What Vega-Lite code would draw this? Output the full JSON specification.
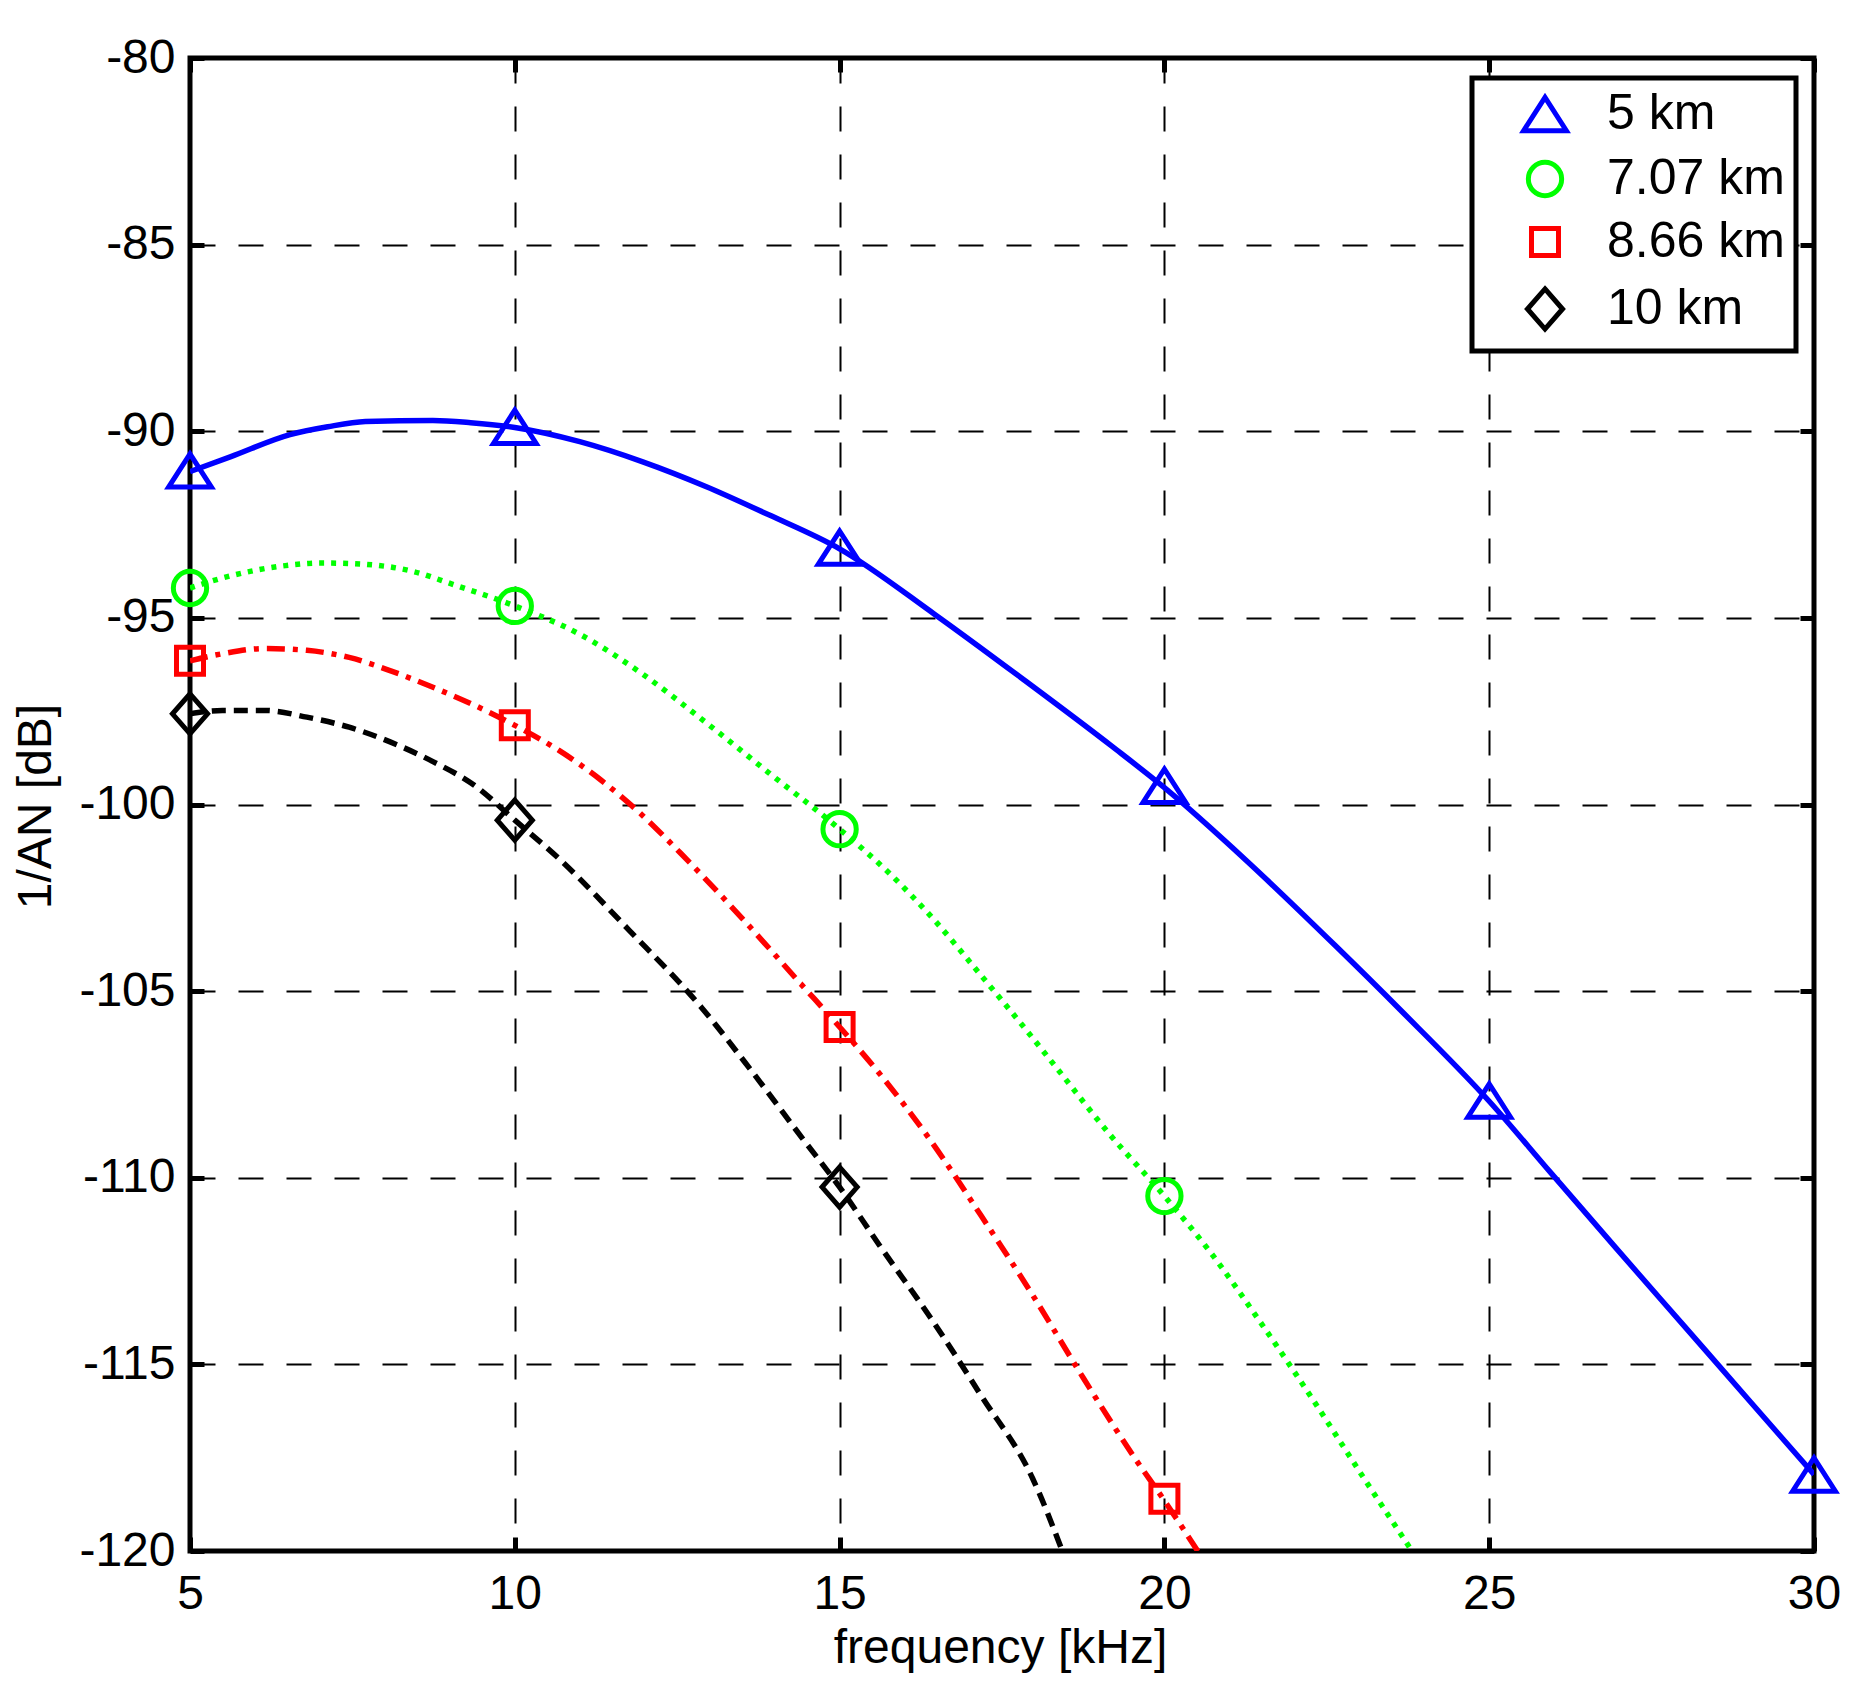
{
  "$schema": "https://vega.github.io/schema/vega-lite/v6.json",
  "width": 1624,
  "height": 1493,
  "autosize": {"type": "none"},
  "padding": {"left": 190, "top": 58, "right": 42, "bottom": 137},
  "background": "white",
  "config": {
    "view": {"stroke": "black", "strokeWidth": 5},
    "font": "Liberation Sans",
    "legend": {"strokeWidth": 5},
    "axis": {
      "domain": false,
      "labelFont": "Liberation Sans",
      "labelFontSize": 48,
      "labelColor": "black",
      "labelFlush": false,
      "labelOverlap": false,
      "labelExpr": "toString(datum.value)",
      "titleFont": "Liberation Sans",
      "titleFontSize": 48,
      "titleFontWeight": "normal",
      "titleColor": "black",
      "tickColor": "black",
      "tickWidth": 5,
      "tickSize": -14,
      "gridColor": "black",
      "gridWidth": 2,
      "gridDash": [25, 23],
      "gridOpacity": 1
    }
  },
  "datasets": {
    "curves": [
      {"dist": "5 km", "f": 5, "v": -91.08},
      {"dist": "5 km", "f": 5.63, "v": -90.68},
      {"dist": "5 km", "f": 6.54, "v": -90.09},
      {"dist": "5 km", "f": 7.12, "v": -89.88},
      {"dist": "5 km", "f": 7.7, "v": -89.74},
      {"dist": "5 km", "f": 8.74, "v": -89.71},
      {"dist": "5 km", "f": 9.32, "v": -89.77},
      {"dist": "5 km", "f": 10, "v": -89.9},
      {"dist": "5 km", "f": 11, "v": -90.28},
      {"dist": "5 km", "f": 11.97, "v": -90.82},
      {"dist": "5 km", "f": 12.94, "v": -91.48},
      {"dist": "5 km", "f": 13.91, "v": -92.24},
      {"dist": "5 km", "f": 15, "v": -93.15},
      {"dist": "5 km", "f": 16.46, "v": -94.9},
      {"dist": "5 km", "f": 17.83, "v": -96.65},
      {"dist": "5 km", "f": 19.2, "v": -98.45},
      {"dist": "5 km", "f": 20, "v": -99.55},
      {"dist": "5 km", "f": 21.26, "v": -101.5},
      {"dist": "5 km", "f": 22.63, "v": -103.78},
      {"dist": "5 km", "f": 23.63, "v": -105.5},
      {"dist": "5 km", "f": 25, "v": -107.95},
      {"dist": "5 km", "f": 25.94, "v": -109.85},
      {"dist": "5 km", "f": 26.96, "v": -111.9},
      {"dist": "5 km", "f": 27.99, "v": -113.95},
      {"dist": "5 km", "f": 29.02, "v": -116.0},
      {"dist": "5 km", "f": 30, "v": -117.95},
      {"dist": "7.07 km", "f": 5, "v": -94.2},
      {"dist": "7.07 km", "f": 5.5, "v": -93.93},
      {"dist": "7.07 km", "f": 6.47, "v": -93.6},
      {"dist": "7.07 km", "f": 7, "v": -93.53},
      {"dist": "7.07 km", "f": 7.64, "v": -93.56},
      {"dist": "7.07 km", "f": 8.42, "v": -93.75},
      {"dist": "7.07 km", "f": 9.06, "v": -94.11},
      {"dist": "7.07 km", "f": 10, "v": -94.68},
      {"dist": "7.07 km", "f": 11, "v": -95.44},
      {"dist": "7.07 km", "f": 11.97, "v": -96.51},
      {"dist": "7.07 km", "f": 12.94, "v": -97.8},
      {"dist": "7.07 km", "f": 13.91, "v": -99.15},
      {"dist": "7.07 km", "f": 15, "v": -100.66},
      {"dist": "7.07 km", "f": 15.77, "v": -101.85},
      {"dist": "7.07 km", "f": 16.46, "v": -103.1},
      {"dist": "7.07 km", "f": 17.14, "v": -104.5},
      {"dist": "7.07 km", "f": 17.83, "v": -105.95},
      {"dist": "7.07 km", "f": 18.36, "v": -107.1},
      {"dist": "7.07 km", "f": 19.14, "v": -108.8},
      {"dist": "7.07 km", "f": 20, "v": -110.49},
      {"dist": "7.07 km", "f": 20.71, "v": -112.0},
      {"dist": "7.07 km", "f": 21.49, "v": -113.9},
      {"dist": "7.07 km", "f": 22.28, "v": -115.93},
      {"dist": "7.07 km", "f": 23.06, "v": -118.02},
      {"dist": "7.07 km", "f": 23.85, "v": -120.1},
      {"dist": "8.66 km", "f": 5, "v": -96.15},
      {"dist": "8.66 km", "f": 5.5, "v": -95.96},
      {"dist": "8.66 km", "f": 6.15, "v": -95.82},
      {"dist": "8.66 km", "f": 6.8, "v": -95.87},
      {"dist": "8.66 km", "f": 7.45, "v": -96.06},
      {"dist": "8.66 km", "f": 8.09, "v": -96.42},
      {"dist": "8.66 km", "f": 8.74, "v": -96.86},
      {"dist": "8.66 km", "f": 9.39, "v": -97.35},
      {"dist": "8.66 km", "f": 10, "v": -97.88},
      {"dist": "8.66 km", "f": 10.68, "v": -98.55},
      {"dist": "8.66 km", "f": 11.33, "v": -99.35},
      {"dist": "8.66 km", "f": 11.97, "v": -100.3},
      {"dist": "8.66 km", "f": 12.55, "v": -101.3},
      {"dist": "8.66 km", "f": 13.5, "v": -103.05},
      {"dist": "8.66 km", "f": 14.4, "v": -104.8},
      {"dist": "8.66 km", "f": 15, "v": -105.96},
      {"dist": "8.66 km", "f": 15.61, "v": -107.2},
      {"dist": "8.66 km", "f": 16.4, "v": -109.0},
      {"dist": "8.66 km", "f": 17.18, "v": -111.02},
      {"dist": "8.66 km", "f": 17.97, "v": -113.14},
      {"dist": "8.66 km", "f": 18.75, "v": -115.36},
      {"dist": "8.66 km", "f": 19.54, "v": -117.5},
      {"dist": "8.66 km", "f": 20, "v": -118.65},
      {"dist": "8.66 km", "f": 20.55, "v": -120.1},
      {"dist": "10 km", "f": 5, "v": -97.57},
      {"dist": "10 km", "f": 5.5, "v": -97.48},
      {"dist": "10 km", "f": 6.15, "v": -97.48},
      {"dist": "10 km", "f": 6.8, "v": -97.66},
      {"dist": "10 km", "f": 7.45, "v": -97.93},
      {"dist": "10 km", "f": 8.09, "v": -98.33},
      {"dist": "10 km", "f": 8.74, "v": -98.85},
      {"dist": "10 km", "f": 9.39, "v": -99.5},
      {"dist": "10 km", "f": 10, "v": -100.42},
      {"dist": "10 km", "f": 10.68, "v": -101.45},
      {"dist": "10 km", "f": 11.75, "v": -103.35},
      {"dist": "10 km", "f": 12.87, "v": -105.43},
      {"dist": "10 km", "f": 13.65, "v": -107.15},
      {"dist": "10 km", "f": 14.43, "v": -108.95},
      {"dist": "10 km", "f": 15, "v": -110.25},
      {"dist": "10 km", "f": 15.61, "v": -111.8},
      {"dist": "10 km", "f": 16.4, "v": -113.75},
      {"dist": "10 km", "f": 17.18, "v": -115.84},
      {"dist": "10 km", "f": 17.97, "v": -118.05},
      {"dist": "10 km", "f": 18.45, "v": -120.1}
    ],
    "markers": [
      {"dist": "5 km", "f": 5, "v": -91.05},
      {"dist": "5 km", "f": 10, "v": -89.88},
      {"dist": "5 km", "f": 15, "v": -93.12},
      {"dist": "5 km", "f": 20, "v": -99.5},
      {"dist": "5 km", "f": 25, "v": -107.93},
      {"dist": "5 km", "f": 30, "v": -117.95},
      {"dist": "7.07 km", "f": 5, "v": -94.2},
      {"dist": "7.07 km", "f": 10, "v": -94.68},
      {"dist": "7.07 km", "f": 15, "v": -100.66},
      {"dist": "7.07 km", "f": 20, "v": -110.49},
      {"dist": "8.66 km", "f": 5, "v": -96.15},
      {"dist": "8.66 km", "f": 10, "v": -97.88},
      {"dist": "8.66 km", "f": 15, "v": -105.96},
      {"dist": "8.66 km", "f": 20, "v": -118.6},
      {"dist": "10 km", "f": 5, "v": -97.57},
      {"dist": "10 km", "f": 10, "v": -100.42},
      {"dist": "10 km", "f": 15, "v": -110.25}
    ]
  },
  "resolve": {"axis": {"x": "independent", "y": "independent"}},
  "layer": [
    {
      "data": {"name": "curves"},
      "transform": [{"filter": "datum.dist == '5 km'"}],
      "mark": {"type": "line", "strokeWidth": 5.5, "clip": true, "interpolate": "monotone", "color": "#0000ff"},
      "encoding": {
        "x": {
          "field": "f",
          "type": "quantitative",
          "scale": {"domain": [5, 30], "nice": false, "zero": false},
          "axis": {
            "orient": "bottom",
            "values": [5, 10, 15, 20, 25, 30],
            "title": "frequency [kHz]",
            "labelPadding": 33,
            "grid": true,
            "titleX": 810,
            "titleY": 111,
            "titleBaseline": "alphabetic",
            "titleAlign": "center"
          }
        },
        "y": {
          "field": "v",
          "type": "quantitative",
          "scale": {"domain": [-120, -80], "nice": false, "zero": false},
          "axis": {
            "orient": "left",
            "values": [-120, -115, -110, -105, -100, -95, -90, -85, -80],
            "title": "1/AN [dB]",
            "labelPadding": 29,
            "grid": true,
            "titleX": -140,
            "titleY": 748,
            "titleAngle": 270,
            "titleBaseline": "alphabetic",
            "titleAlign": "center"
          }
        }
      }
    },
    {
      "data": {"name": "curves"},
      "transform": [{"filter": "datum.dist == '7.07 km'"}],
      "mark": {"type": "line", "strokeWidth": 5.5, "clip": true, "interpolate": "monotone", "color": "#00ff00", "strokeDash": [5, 7]},
      "encoding": {
        "x": {"field": "f", "type": "quantitative", "axis": null},
        "y": {"field": "v", "type": "quantitative", "axis": null}
      }
    },
    {
      "data": {"name": "curves"},
      "transform": [{"filter": "datum.dist == '8.66 km'"}],
      "mark": {"type": "line", "strokeWidth": 5.5, "clip": true, "interpolate": "monotone", "color": "#ff0000", "strokeDash": [18, 8, 5, 8]},
      "encoding": {
        "x": {"field": "f", "type": "quantitative", "axis": null},
        "y": {"field": "v", "type": "quantitative", "axis": null}
      }
    },
    {
      "data": {"name": "curves"},
      "transform": [{"filter": "datum.dist == '10 km'"}],
      "mark": {"type": "line", "strokeWidth": 5.5, "clip": true, "interpolate": "monotone", "color": "#000000", "strokeDash": [14, 8]},
      "encoding": {
        "x": {"field": "f", "type": "quantitative", "axis": null},
        "y": {"field": "v", "type": "quantitative", "axis": null}
      }
    },
    {
      "data": {"name": "markers"},
      "mark": {"type": "point", "filled": false, "strokeWidth": 5, "size": 2025, "opacity": 1},
      "encoding": {
        "x": {
          "field": "f",
          "type": "quantitative",
          "axis": {"orient": "top", "values": [5, 10, 15, 20, 25, 30], "labels": false, "grid": false, "title": null}
        },
        "y": {
          "field": "v",
          "type": "quantitative",
          "axis": {"orient": "right", "values": [-120, -115, -110, -105, -100, -95, -90, -85, -80], "labels": false, "grid": false, "title": null}
        },
        "color": {
          "field": "dist",
          "type": "nominal",
          "scale": {
            "domain": ["5 km", "7.07 km", "8.66 km", "10 km"],
            "range": ["#0000ff", "#00ff00", "#ff0000", "#000000"]
          },
          "legend": {
            "title": null,
            "orient": "none",
            "legendX": 1282,
            "legendY": 20,
            "direction": "vertical",
            "fillColor": "white",
            "strokeColor": "black",
            "padding": 11,
            "rowPadding": 11,
            "labelFont": "Liberation Sans",
            "labelFontSize": 50,
            "labelColor": "black",
            "labelOffset": 37,
            "symbolOffset": 37,
            "symbolSize": 2025,
            "symbolStrokeWidth": 5,
            "labelLimit": 400
          }
        },
        "shape": {
          "field": "dist",
          "type": "nominal",
          "scale": {
            "domain": ["5 km", "7.07 km", "8.66 km", "10 km"],
            "range": [
              "M0,-0.74L0.95,0.74L-0.95,0.74Z",
              "M0.74,0A0.74,0.74,0,1,1,-0.74,0A0.74,0.74,0,1,1,0.74,0Z",
              "M-0.6,-0.6L0.6,-0.6L0.6,0.6L-0.6,0.6Z",
              "M0,-0.89L0.78,0L0,0.89L-0.78,0Z"
            ]
          }
        }
      }
    }
  ]
}
